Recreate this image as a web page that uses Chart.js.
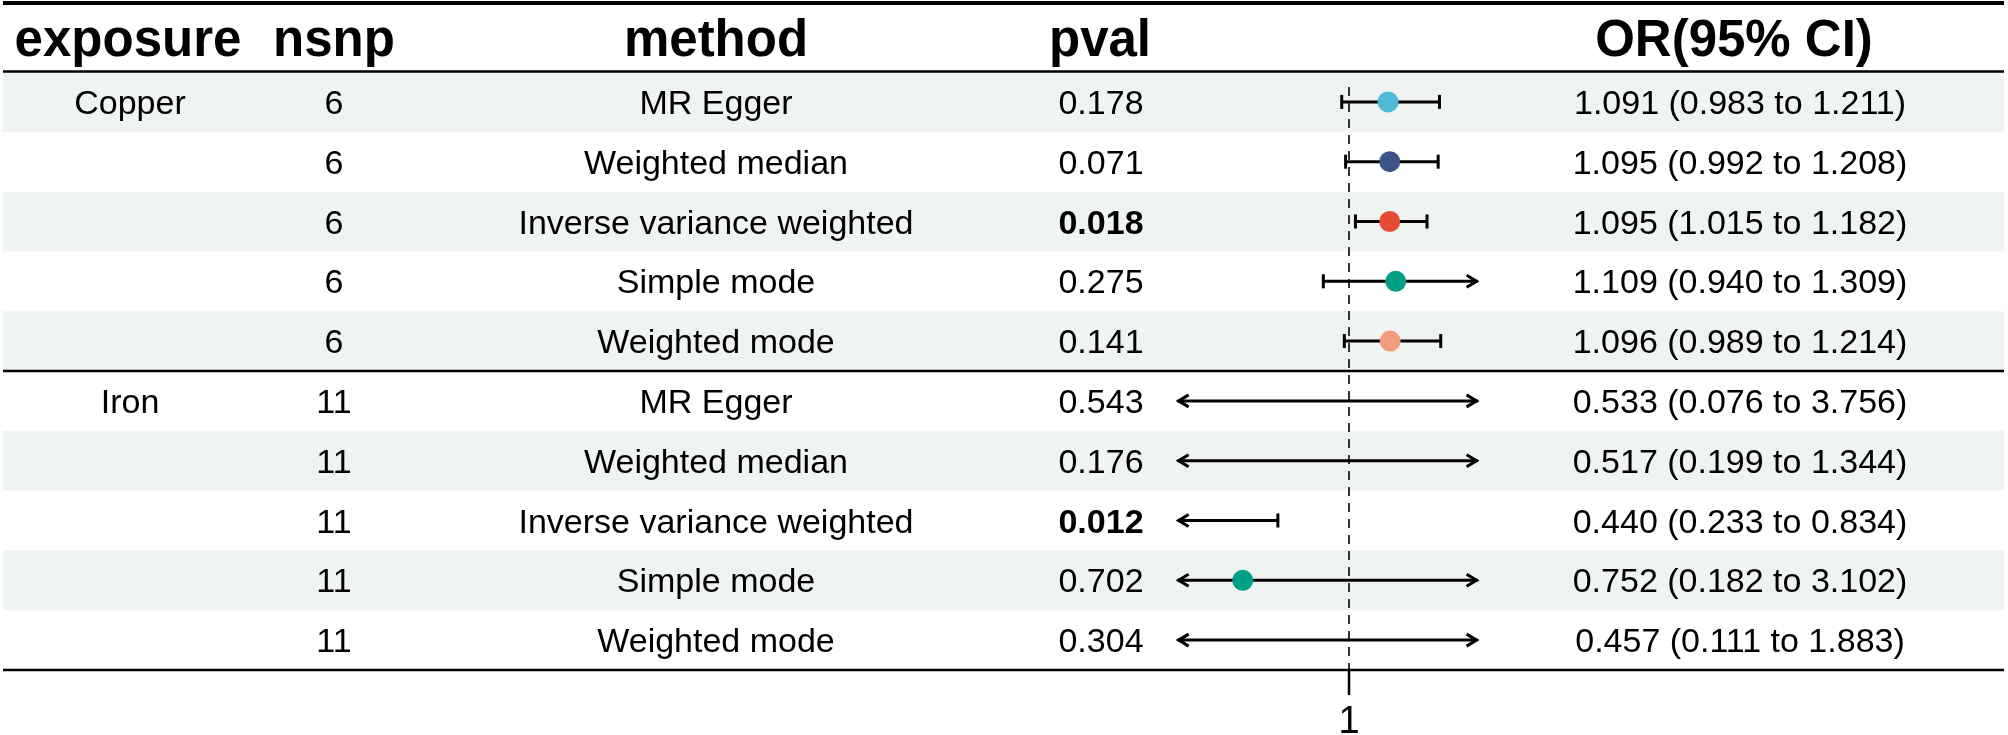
<!DOCTYPE html>
<html>
<head>
<meta charset="utf-8">
<script src="https://cdn.jsdelivr.net/npm/chart.js@4.4.1/dist/chart.umd.min.js"></script>
<style>
  html, body { margin: 0; padding: 0; background: #fff; }
  #wrap { width: 2008px; height: 735px; }
</style>
</head>
<body>
<div id="wrap"><canvas id="forest" width="2008" height="735"></canvas></div>
<script>
// table data, one entry per row
const exposures = ["Copper", "", "", "", "", "Iron", "", "", "", ""];
const nsnp = [6, 6, 6, 6, 6, 11, 11, 11, 11, 11];
const methods = ["MR Egger", "Weighted median", "Inverse variance weighted", "Simple mode", "Weighted mode",
                 "MR Egger", "Weighted median", "Inverse variance weighted", "Simple mode", "Weighted mode"];
const pvals = ["0.178", "0.071", "0.018", "0.275", "0.141", "0.543", "0.176", "0.012", "0.702", "0.304"];
const orValues = [1.091, 1.095, 1.095, 1.109, 1.096, 0.533, 0.517, 0.440, 0.752, 0.457];
const ciLower = [0.983, 0.992, 1.015, 0.940, 0.989, 0.076, 0.199, 0.233, 0.182, 0.111];
const ciUpper = [1.211, 1.208, 1.182, 1.309, 1.214, 3.756, 1.344, 0.834, 3.102, 1.883];
const xTicks = [1];
const xLimits = [0.6, 1.3];
const headers = ["exposure", "nsnp", "method", "pval", "OR(95% CI)"];

const methodColors = {
  "MR Egger": "#4DBBD5",
  "Weighted median": "#3C5488",
  "Inverse variance weighted": "#E64B35",
  "Simple mode": "#00A087",
  "Weighted mode": "#F39B7F"
};

const FONT = '"Liberation Sans", Arial, Helvetica, sans-serif';
const colCenters = [130, 334, 716, 1101, 1740];
const headerCenters = [128, 334, 716, 1100, 1734];
const rowIdx = methods.map((m, i) => i + 1);
const ciText = orValues.map((v, i) => v.toFixed(3) + " (" + ciLower[i].toFixed(3) + " to " + ciUpper[i].toFixed(3) + ")");

function hline(ctx, y, w) {
  ctx.save();
  ctx.strokeStyle = "#000";
  ctx.lineWidth = w;
  ctx.beginPath();
  ctx.moveTo(3, y);
  ctx.lineTo(2004, y);
  ctx.stroke();
  ctx.restore();
}

const forestTable = {
  id: "forestTable",
  beforeDraw(chart) {
    const ctx = chart.ctx;
    const ys = chart.scales.y;
    ctx.save();
    ctx.fillStyle = "#fff";
    ctx.fillRect(0, 0, chart.width, chart.height);
    // zebra rows
    rowIdx.forEach(r => {
      if (r % 2 === 1) {
        const top = ys.getPixelForValue(r - 0.5);
        const bot = ys.getPixelForValue(r + 0.5);
        ctx.fillStyle = "#eff3f2";
        ctx.fillRect(3, top, 2001, bot - top);
      }
    });
    ctx.restore();
  },
  beforeDatasetsDraw(chart) {
    const ctx = chart.ctx;
    const xs = chart.scales.x;
    const ys = chart.scales.y;
    const area = chart.chartArea;
    ctx.save();
    // reference line at 1
    xTicks.forEach(t => {
      const x = xs.getPixelForValue(t);
      ctx.strokeStyle = "#333";
      ctx.lineWidth = 2;
      ctx.setLineDash([9, 7]);
      ctx.beginPath();
      ctx.moveTo(x, area.top + 15);
      ctx.lineTo(x, area.bottom);
      ctx.stroke();
    });
    ctx.setLineDash([]);
    // confidence intervals
    ctx.strokeStyle = "#000";
    ctx.lineWidth = 3;
    ctx.lineCap = "butt";
    rowIdx.forEach((r, i) => {
      const y = ys.getPixelForValue(r);
      const lo = Math.max(ciLower[i], xLimits[0]);
      const hi = Math.min(ciUpper[i], xLimits[1]);
      if (hi <= xLimits[0] || lo >= xLimits[1]) return;
      const x0 = xs.getPixelForValue(lo);
      const x1 = xs.getPixelForValue(hi);
      ctx.beginPath();
      ctx.moveTo(x0, y);
      ctx.lineTo(x1, y);
      ctx.stroke();
      // left end
      ctx.beginPath();
      if (ciLower[i] < xLimits[0]) {
        ctx.moveTo(x0 + 11, y - 6);
        ctx.lineTo(x0 + 1, y);
        ctx.lineTo(x0 + 11, y + 6);
      } else {
        ctx.moveTo(x0, y - 7);
        ctx.lineTo(x0, y + 7);
      }
      ctx.stroke();
      // right end
      ctx.beginPath();
      if (ciUpper[i] > xLimits[1]) {
        ctx.moveTo(x1 - 11, y - 6);
        ctx.lineTo(x1 - 1, y);
        ctx.lineTo(x1 - 11, y + 6);
      } else {
        ctx.moveTo(x1, y - 7);
        ctx.lineTo(x1, y + 7);
      }
      ctx.stroke();
    });
    ctx.restore();
  },
  afterDraw(chart) {
    const ctx = chart.ctx;
    const xs = chart.scales.x;
    const ys = chart.scales.y;
    const area = chart.chartArea;
    ctx.save();
    ctx.fillStyle = "#000";
    ctx.textAlign = "center";
    ctx.textBaseline = "alphabetic";
    // headers
    ctx.font = "bold 51px " + FONT;
    headers.forEach((h, c) => ctx.fillText(h, headerCenters[c], 56));
    // body cells
    rowIdx.forEach((r, i) => {
      const y = ys.getPixelForValue(r) + 12;
      ctx.font = "34px " + FONT;
      ctx.fillText(exposures[i], colCenters[0], y);
      ctx.fillText(String(nsnp[i]), colCenters[1], y);
      ctx.fillText(methods[i], colCenters[2], y);
      ctx.font = (parseFloat(pvals[i]) < 0.05 ? "bold " : "") + "34px " + FONT;
      ctx.fillText(pvals[i], colCenters[3], y);
      ctx.font = "34px " + FONT;
      ctx.fillText(ciText[i], colCenters[4], y);
    });
    // rules
    hline(ctx, 3, 4);
    hline(ctx, ys.getPixelForValue(0.5) - 0.5, 2.5);
    hline(ctx, ys.getPixelForValue(5.5), 2.5);
    hline(ctx, ys.getPixelForValue(10.5), 2.5);
    // x axis tick and label
    xTicks.forEach(t => {
      const x = xs.getPixelForValue(t);
      ctx.strokeStyle = "#000";
      ctx.lineWidth = 2.5;
      ctx.beginPath();
      ctx.moveTo(x, area.bottom);
      ctx.lineTo(x, area.bottom + 25);
      ctx.stroke();
      ctx.font = "38px " + FONT;
      ctx.fillText(String(t), x, area.bottom + 63);
    });
    ctx.restore();
  }
};

new Chart(document.getElementById("forest"), {
  type: "scatter",
  data: {
    datasets: [{
      data: orValues.map((v, i) => ({ x: v, y: rowIdx[i] })),
      backgroundColor: methods.map(m => methodColors[m]),
      borderWidth: 0,
      pointRadius: 10.5,
      pointHoverRadius: 10.5
    }]
  },
  options: {
    responsive: false,
    animation: false,
    events: [],
    layout: { padding: { left: 1177.6, right: 530.4, top: 72, bottom: 65 } },
    plugins: { legend: { display: false }, tooltip: { enabled: false } },
    scales: {
      x: { type: "linear", min: xLimits[0], max: xLimits[1], display: false },
      y: { type: "linear", min: 0.5, max: 10.5, reverse: true, display: false }
    }
  },
  plugins: [forestTable]
});
</script>
</body>
</html>
